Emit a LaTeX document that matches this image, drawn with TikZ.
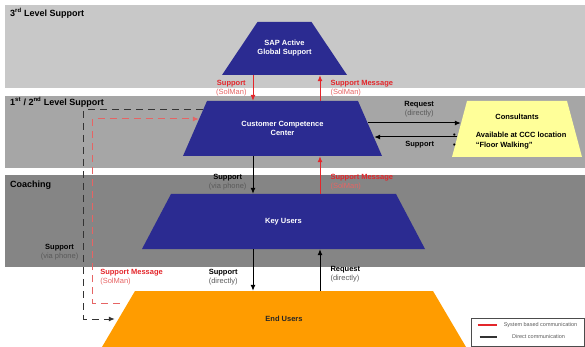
\documentclass[tikz,border=0pt]{standalone}
\usepackage{fontspec}
\setmainfont{Liberation Sans}
\usetikzlibrary{arrows.meta}

\definecolor{bandA}{HTML}{C8C8C8}
\definecolor{bandB}{HTML}{A6A6A6}
\definecolor{bandC}{HTML}{858585}
\definecolor{sapblue}{HTML}{2B2B91}
\definecolor{endorange}{HTML}{FF9C00}
\definecolor{consyellow}{HTML}{FFFF99}
\definecolor{smred}{HTML}{E3262B}
\definecolor{smlight}{HTML}{E66464}
\definecolor{dirgray}{HTML}{5A5A5A}

\newcommand{\blacklbl}[2]{\textbf{#1}\\{\color{dirgray}#2}}
\newcommand{\redlbl}[2]{{\color{smred}\textbf{#1}}\\{\color{smlight}#2}}

\tikzset{
  layer/.style 2 args={rectangle, inner sep=0pt, align=center,
    font=\bfseries\fontsize{7.5}{9}\selectfont,
    path picture={\fill[#2] (path picture bounding box.south west)
      -- ([xshift=#1]path picture bounding box.north west)
      -- ([xshift=-#1]path picture bounding box.north east)
      -- (path picture bounding box.south east) -- cycle;}},
  bluelayer/.style={layer={#1}{sapblue}, text=white},
  bandtxt/.style={anchor=west, inner sep=0pt, font=\bfseries\fontsize{9}{10}\selectfont},
  lbl/.style={inner sep=0pt, align=center, font=\fontsize{7.5}{9}\selectfont},
  msg/.style={-{Latex[length=6pt,width=5pt]}, line width=1pt},
  sysmsg/.style={msg, draw=smred, color=smred},
  dirdash/.style={msg, draw=black!80, dash pattern=on 7pt off 5pt},
  sysdash/.style={msg, draw=smlight, color=smlight, dash pattern=on 7pt off 5pt},
  legtxt/.style={inner sep=0pt, font=\fontsize{5.5}{6}\selectfont, text=dirgray}
}

\begin{document}
\begin{tikzpicture}[x=1pt,y=-1pt]
\useasboundingbox (0,0) rectangle (585,347);

% support levels
\fill[bandA] (5,5) rectangle (585,88);
\fill[bandB] (5,96) rectangle (585,168);
\fill[bandC] (5,175) rectangle (585,267);
\node[bandtxt] (lvl3) at (10,13) {3\textsuperscript{rd} Level Support};
\node[bandtxt] (lvl12) at (10,102) {1\textsuperscript{st} / 2\textsuperscript{nd} Level Support};
\node[bandtxt] (lvlc) at (10,185) {Coaching};

% pyramid
\node[bluelayer=35.5pt, minimum width=125pt, minimum height=53pt] (sap) at (284.5,48.5) {SAP Active\\Global Support};
\node[bluelayer=24pt, minimum width=199pt, minimum height=55pt] (ccc) at (282.5,128.5) {Customer Competence\\Center};
\node[bluelayer=29pt, minimum width=283pt, minimum height=55pt] (key) at (283.5,221.5) {Key Users};
\node[layer={33pt}{endorange}, text=black!85, minimum width=364pt, minimum height=56pt] (endu) at (284,319) {End Users};
\node[layer={15pt}{consyellow}, minimum width=130pt, minimum height=56pt] (cons) at (517,129) {};
\node[lbl, font=\bfseries\fontsize{7.5}{9}\selectfont] (consT) at ([yshift=12pt]cons.center) {Consultants};
\node[lbl, anchor=west, align=left, font=\bfseries\fontsize{7.5}{10}\selectfont] (consL) at (453,141)
  {\textbullet\hspace{20pt}Available at CCC location\\\textbullet\hspace{20pt}“Floor Walking”};

% lanes of the vertical arrows
\coordinate (lft) at (253,0);
\coordinate (rgt) at (320,0);

\draw[sysmsg] (sap.south -| lft) -- node[lbl, left=6pt] {\redlbl{Support}{(SolMan)}} (ccc.north -| lft);
\draw[sysmsg] (ccc.north -| rgt) -- node[lbl, right=10pt, align=left] {\redlbl{Support Message}{(SolMan)}} (sap.south -| rgt);
\draw[msg] (ccc.south -| lft) -- node[lbl, pos=0.7, left=6pt] {\blacklbl{Support}{(via phone)}} (key.north -| lft);
\draw[sysmsg] (key.north -| rgt) -- node[lbl, pos=0.3, right=10pt, align=left] {\redlbl{Support Message}{(SolMan)}} (ccc.south -| rgt);
\draw[msg] (key.south -| lft) -- node[lbl, pos=0.67, left=15pt] {\blacklbl{Support}{(directly)}} (endu.north -| lft);
\draw[msg] (endu.north -| rgt) -- node[lbl, pos=0.4, right=10pt, align=left] {\blacklbl{Request}{(directly)}} (key.south -| rgt);

% consultants
\draw[msg] ([xshift=-14pt,yshift=5.5pt]ccc.east) -- node[lbl, pos=0.55, above=5pt] {\blacklbl{Request}{(directly)}} ([xshift=9pt,yshift=6pt]cons.west);
\draw[msg] ([xshift=5pt,yshift=-8pt]cons.west) -- node[lbl, pos=0.45, below=4pt] {\textbf{Support}} ([xshift=-8pt,yshift=-8.5pt]ccc.east);

% phone support and SolMan messages around the pyramid
\draw[dirdash] ([xshift=20pt,yshift=18.5pt]ccc.west) -| node[lbl, pos=0.84, left=5pt] {\blacklbl{Support}{(via phone)}}
  ([xshift=-18pt]endu.west) -- ([xshift=13pt]endu.west);
\draw[sysdash] ([xshift=18pt,yshift=16pt]endu.west) -- ++(-27,0)
  |- node[lbl, pos=0.07, right=7pt, align=left] {\redlbl{Support Message}{(SolMan)}} ([xshift=16pt,yshift=9.5pt]ccc.west);

% legend
\node[draw=black!70, line width=0.6pt, minimum width=113pt, minimum height=28pt, inner sep=0pt] (legend) at (527.5,332) {};
\draw[smred, line width=2pt] ([xshift=7pt,yshift=7pt]legend.west) -- ++(19,0);
\node[legtxt] (legsys) at ([xshift=13pt,yshift=7pt]legend.center) {System based communication};
\draw[black!80, line width=1.5pt] ([xshift=9pt,yshift=-5pt]legend.west) -- ++(17,0);
\node[legtxt] (legdir) at ([xshift=11pt,yshift=-5pt]legend.center) {Direct communication};
\end{tikzpicture}
\end{document}
